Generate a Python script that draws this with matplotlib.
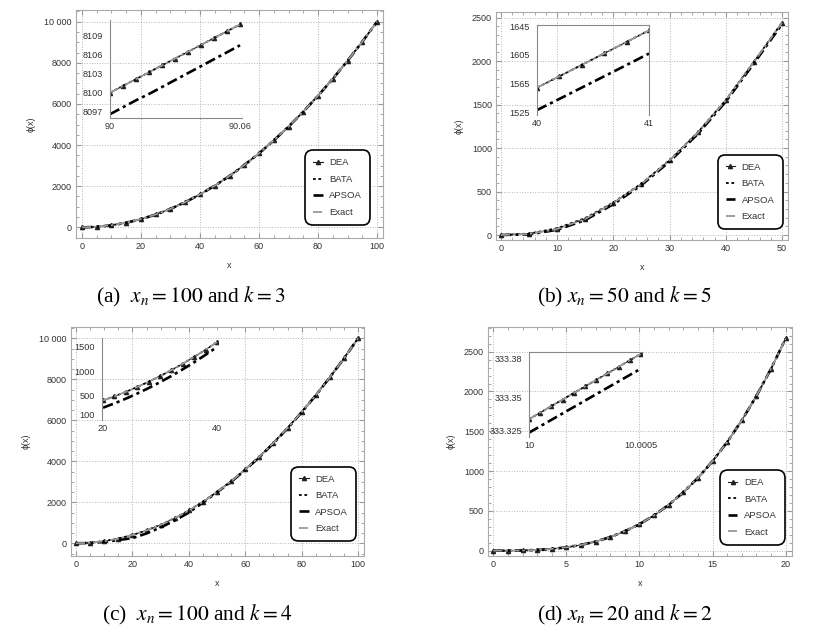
import matplotlib
matplotlib.use("Agg")
import matplotlib.pyplot as plt
from matplotlib.ticker import AutoMinorLocator

plt.rcParams["font.family"] = ["Liberation Sans", "DejaVu Sans"]
plt.rcParams["mathtext.fontset"] = "stix"

# ---- panel (a): xn = 100, k = 3 ----
xa = [0, 5, 10, 15, 20, 25, 30, 35, 40, 45, 50, 55, 60, 65, 70, 75, 80, 85, 90, 95, 100]
exact_a = [0, 25, 100, 225, 400, 625, 900, 1225, 1600, 2025, 2500, 3025, 3600, 4225, 4900,
           5625, 6400, 7225, 8100, 9025, 10000]
dea_a = [0, 25, 100, 225, 400, 625, 900, 1225, 1600, 2025, 2500, 3025, 3600, 4225, 4900,
         5625, 6400, 7225, 8100, 9025, 10000]
bata_a = [0, 25, 100, 225, 400, 625, 900, 1225, 1600, 2025, 2500, 3025, 3600, 4225, 4900,
          5625, 6400, 7225, 8100, 9025, 10000]
apsoa_a = [-3, 22, 96, 222, 396, 622, 896, 1222, 1596, 2022, 2496, 3022, 3596, 4222, 4896,
           5622, 6396, 7222, 8096, 9022, 9996]
xa_in = [90.000, 90.006, 90.012, 90.018, 90.024, 90.030, 90.036, 90.042, 90.048, 90.054, 90.060]
exact_a_in = [8100.00, 8101.08, 8102.16, 8103.24, 8104.32, 8105.40, 8106.48, 8107.56, 8108.64,
              8109.72, 8110.80]
apsoa_a_in = [8096.6, 8097.7, 8098.8, 8099.8, 8100.9, 8102.0, 8103.1, 8104.2, 8105.3, 8106.4, 8107.5]

# ---- panel (b): xn = 50, k = 5 ----
xb = [0, 5, 10, 15, 20, 25, 30, 35, 40, 45, 50]
exact_b = [0, 12, 69, 185, 369, 588, 858, 1177, 1550, 1992, 2442]
dea_b = [0, 14, 72, 188, 371, 590, 860, 1180, 1552, 1994, 2445]
bata_b = [0, 16, 78, 195, 375, 592, 862, 1180, 1553, 1993, 2443]
apsoa_b = [0, 8, 60, 172, 355, 575, 845, 1162, 1535, 1975, 2425]
xb_in = [40.0, 40.2, 40.4, 40.6, 40.8, 41.0]
exact_b_in = [1560.0, 1575.6, 1591.4, 1607.2, 1623.0, 1639.0]
apsoa_b_in = [1529.0, 1544.4, 1560.0, 1575.6, 1591.2, 1607.0]

# ---- panel (c): xn = 100, k = 4 ----
xc = [0, 5, 10, 15, 20, 25, 30, 35, 40, 45, 50, 55, 60, 65, 70, 75, 80, 85, 90, 95, 100]
exact_c = [0, 25, 100, 225, 400, 625, 900, 1225, 1600, 2025, 2500, 3025, 3600, 4225, 4900,
           5625, 6400, 7225, 8100, 9025, 10000]
dea_c = [0, 25, 100, 225, 400, 625, 900, 1225, 1600, 2025, 2500, 3025, 3600, 4225, 4900,
         5625, 6400, 7225, 8100, 9025, 10000]
bata_c = [0, 30, 110, 235, 405, 630, 905, 1230, 1605, 2030, 2505, 3030, 3605, 4230, 4905,
          5630, 6405, 7230, 8105, 9030, 10000]
apsoa_c = [0, 15, 70, 160, 250, 480, 775, 1110, 1500, 1990, 2490, 3000, 3580, 4200, 4880,
           5610, 6390, 7215, 8095, 9020, 10000]
xc_in = [20, 22, 24, 26, 28, 30, 32, 34, 36, 38, 40]
exact_c_in = [400, 484, 576, 676, 784, 900, 1024, 1156, 1296, 1444, 1600]
apsoa_c_in = [250, 339, 436, 541, 654, 775, 904, 1041, 1186, 1339, 1500]

# ---- panel (d): xn = 20, k = 2 ----
xd = list(range(0, 21))
exact_d = [0, 0.33, 2.67, 9.0, 21.33, 41.67, 72.0, 114.33, 170.67, 243.0, 333.33, 443.67, 576.0,
           732.33, 914.67, 1125.0, 1365.33, 1637.67, 1944.0, 2286.33, 2666.67]
dea_d = [0, 0.33, 2.67, 9.0, 21.33, 41.67, 72.0, 114.33, 170.67, 243.0, 333.33, 443.67, 576.0,
         732.33, 914.67, 1125.0, 1365.33, 1637.67, 1944.0, 2286.33, 2666.67]
bata_d = [0, 0.33, 2.67, 9.0, 21.33, 41.67, 72.0, 114.33, 170.67, 243.0, 333.33, 443.67, 576.0,
          732.33, 914.67, 1125.0, 1365.33, 1637.67, 1944.0, 2286.33, 2666.67]
apsoa_d = [-0.01, 0.32, 2.66, 8.99, 21.32, 41.66, 71.99, 114.32, 170.66, 242.99, 333.32, 443.66,
           575.99, 732.32, 914.66, 1124.99, 1365.32, 1637.66, 1943.99, 2286.32, 2666.66]
xd_in = [10.0, 10.00005, 10.0001, 10.00015, 10.0002, 10.00025, 10.0003, 10.00035, 10.0004,
         10.00045, 10.0005]
exact_d_in = [333.3333, 333.3383, 333.3433, 333.3483, 333.3533, 333.3583, 333.3633, 333.3683,
              333.3733, 333.3783, 333.3833]
apsoa_d_in = [333.3230, 333.3279, 333.3328, 333.3377, 333.3426, 333.3475, 333.3524, 333.3573,
              333.3622, 333.3671, 333.3720]

captions = [r"(a)  $x_n = 100$ and $k = 3$", r"(b) $x_n = 50$ and $k = 5$",
            r"(c)  $x_n = 100$ and $k = 4$", r"(d) $x_n = 20$ and $k = 2$"]
labels = ["DEA", "BATA", "APSOA", "Exact"]

W, H = 839, 642
fig = plt.figure(figsize=(W / 100, H / 100), dpi=100)


def box(l, t, r, b):
    # pixel box (from top-left) -> figure fraction rect
    return [l / W, 1 - b / H, (r - l) / W, (b - t) / H]


def curves(ax, x, dea, bata, apsoa, exact):
    ax.plot(x, dea, color="#222222", lw=0.8, marker="^", ms=3.0, label=labels[0])
    ax.plot(x, bata, color="black", lw=1.3, ls=(0, (1.5, 1.5)), label=labels[1])
    ax.plot(x, apsoa, color="black", lw=1.9, ls=(0, (4, 1.5, 1.2, 1.5)), label=labels[2])
    ax.plot(x, exact, color="#999999", lw=1.3, ls=(0, (5, 1.5, 1.5, 1.5)), label=labels[3])


def main_axes(rect, x, dea, bata, apsoa, exact, xlim, ylim, xt, yt, ytl, mx, my, legpos):
    ax = fig.add_axes(rect)
    curves(ax, x, dea, bata, apsoa, exact)
    ax.set_xlim(*xlim)
    ax.set_ylim(*ylim)
    ax.set_xticks(xt)
    ax.set_yticks(yt)
    ax.set_yticklabels(ytl)
    ax.xaxis.set_minor_locator(AutoMinorLocator(mx))
    ax.yaxis.set_minor_locator(AutoMinorLocator(my))
    ax.tick_params(which="both", direction="in", top=True, right=True, color="#999999",
                   labelcolor="#333333", labelsize=6.5, pad=3)
    ax.tick_params(which="major", length=3.5)
    ax.tick_params(which="minor", length=2)
    for s in ax.spines.values():
        s.set_color("#aaaaaa")
        s.set_linewidth(0.8)
    ax.grid(True, which="major", ls=":", color="#b5b5b5", lw=0.7)
    ax.set_xlabel("x", fontsize=6.5, color="#333333", labelpad=7)
    ax.set_ylabel("ϕ(x)", fontsize=6.5, color="#333333", labelpad=6)
    leg = ax.legend(loc="center", bbox_to_anchor=legpos, fontsize=6.8, handlelength=1.0,
                    handletextpad=0.7, borderpad=0.85, labelspacing=0.8, framealpha=1,
                    edgecolor="black")
    leg.get_frame().set_linewidth(1.2)
    leg.get_frame().set_boxstyle("round,pad=0,rounding_size=0.8")
    for t in leg.get_texts():
        t.set_color("#333333")
    return ax


def inset_axes(rect, x, exact, apsoa, xlim, ylim, xt, xtl, yt, ytl, spines):
    ax = fig.add_axes(rect)
    ax.patch.set_alpha(0)
    curves(ax, x, exact, exact, apsoa, exact)
    ax.set_xlim(*xlim)
    ax.set_ylim(*ylim)
    ax.set_xticks(xt)
    ax.set_xticklabels(xtl)
    ax.set_yticks(yt)
    ax.set_yticklabels(ytl)
    ax.tick_params(length=0, labelsize=6.6, labelcolor="#333333", pad=3)
    ax.tick_params(axis="y", pad=5)
    for k, s in ax.spines.items():
        s.set_visible(k in spines)
        s.set_color("#888888")
        s.set_linewidth(0.8)
    return ax


# panel (a)
main_axes(box(76, 10, 383, 238), xa, dea_a, bata_a, apsoa_a, exact_a,
          (-2.03, 102.03), (-520, 10569), [0, 20, 40, 60, 80, 100],
          [0, 2000, 4000, 6000, 8000, 10000], ["0", "2000", "4000", "6000", "8000", "10 000"],
          4, 4, (0.852, 0.221))
inset_axes(box(110, 20, 242, 118), xa_in, exact_a_in, apsoa_a_in,
           (90.0, 90.0609), (8096.0, 8111.5), [90, 90.06], ["90", "90.06"],
           [8097, 8100, 8103, 8106, 8109], ["8097", "8100", "8103", "8106", "8109"],
           ["left", "bottom"])

# panel (b)
main_axes(box(496, 12, 788, 240), xb, dea_b, bata_b, apsoa_b, exact_b,
          (-0.89, 51.07), (-57.5, 2566), [0, 10, 20, 30, 40, 50],
          [0, 500, 1000, 1500, 2000, 2500], ["0", "500", "1000", "1500", "2000", "2500"],
          5, 5, (0.870, 0.211))
inset_axes(box(537, 25, 649, 115), xb_in, exact_b_in, apsoa_b_in,
           (40, 41), (1522.2, 1646.4), [40, 41], ["40", "41"],
           [1525, 1565, 1605, 1645], ["1525", "1565", "1605", "1645"],
           ["left", "right", "top"])

# panel (c)
main_axes(box(71, 327, 364, 556), xc, dea_c, bata_c, apsoa_c, exact_c,
          (-1.77, 102.1), (-620, 10551), [0, 20, 40, 60, 80, 100],
          [0, 2000, 4000, 6000, 8000, 10000], ["0", "2000", "4000", "6000", "8000", "10 000"],
          4, 4, (0.863, 0.227))
inset_axes(box(102, 338, 218, 420), xc_in, exact_c_in, apsoa_c_in,
           (19.82, 40.18), (-3, 1685), [20, 40], ["20", "40"],
           [100, 500, 1000, 1500], ["100", "500", "1000", "1500"],
           ["left"])

# panel (d)
main_axes(box(488, 327, 792, 556), xd, dea_d, bata_d, apsoa_d, exact_d,
          (-0.36, 20.43), (-67, 2810), [0, 5, 10, 15, 20],
          [0, 500, 1000, 1500, 2000, 2500], ["0", "500", "1000", "1500", "2000", "2500"],
          5, 5, (0.870, 0.212))
inset_axes(box(529, 352, 642, 437), xd_in, exact_d_in, apsoa_d_in,
           (10.0, 10.000504), (333.3197, 333.3846), [10.0, 10.0005], ["10", "10.0005"],
           [333.325, 333.35, 333.38], ["333.325", "333.35", "333.38"],
           ["left", "top"])

# captions under each panel
for (cx, cy), txt in zip([(191, 297), (624, 297), (197, 615), (625, 615)], captions):
    fig.text(cx / W, 1 - cy / H, txt, ha="center", va="center", fontsize=15.5,
             family="Liberation Serif", color="black")

fig.savefig("out.png", dpi=100)
